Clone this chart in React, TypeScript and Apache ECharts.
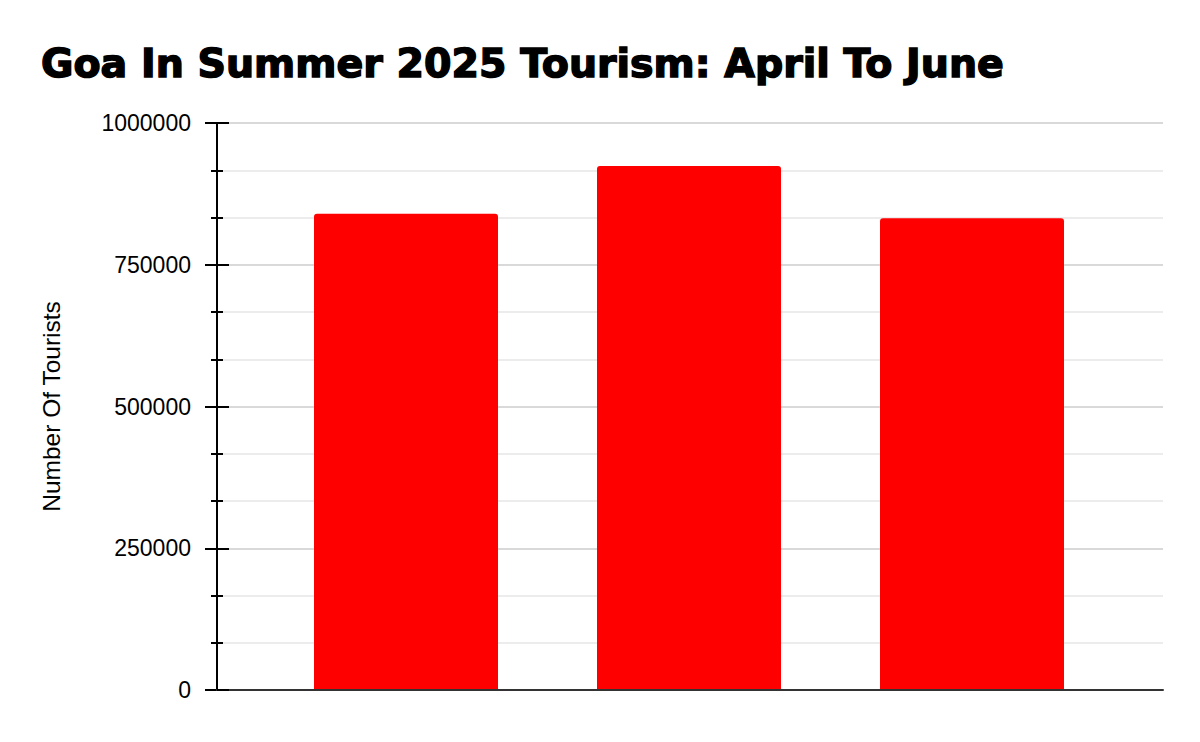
import React, { useEffect, useRef } from 'react';
import * as echarts from 'echarts';

const months = ['April', 'May', 'June'];
const tourists = [840000, 924000, 832000];
const yTicks = [0, 250000, 500000, 750000, 1000000];

const App: React.FC = () => {
  const chartRef = useRef<HTMLDivElement>(null);

  useEffect(() => {
    document.body.style.margin = '0';
    if (!chartRef.current) return;
    const myChart = echarts.init(chartRef.current, undefined, { renderer: 'svg' });

    const font = 'Liberation Sans, Arial, sans-serif';
    const yMin = yTicks[0];
    const yMax = yTicks[yTicks.length - 1];
    const yStep = yTicks[1] - yTicks[0];

    const option = {
      animation: false,
      backgroundColor: '#fff',
      title: {
        text: 'Goa In Summer 2025 Tourism: April To June',
        left: 36,
        top: 38,
        textStyle: {
          fontFamily: 'DejaVu Sans, sans-serif',
          fontWeight: 900,
          fontSize: 39.5,
          color: '#000',
          textBorderColor: '#000',
          textBorderWidth: 1.5
        }
      },
      grid: [
        { left: 217, right: 37, top: 123, bottom: 52 },
        { left: 264.5, right: 86.5, top: 123, bottom: 52 }
      ],
      xAxis: [
        {
          gridIndex: 0,
          type: 'value',
          min: 0,
          max: 1,
          z: 5,
          axisLine: { show: true, lineStyle: { color: '#333', width: 2 } },
          axisTick: { show: false },
          axisLabel: { show: false },
          splitLine: { show: false }
        },
        {
          gridIndex: 1,
          type: 'category',
          data: months,
          show: false
        }
      ],
      yAxis: [
        {
          gridIndex: 0,
          type: 'value',
          min: yMin,
          max: yMax,
          interval: yStep,
          name: 'Number Of Tourists',
          nameLocation: 'middle',
          nameGap: 153,
          nameTextStyle: { fontFamily: font, fontSize: 24.5, color: '#000' },
          axisLine: { show: true, lineStyle: { color: '#000', width: 2 } },
          axisTick: { show: true, length: 12, lineStyle: { color: '#000', width: 2 } },
          minorTick: { show: true, splitNumber: 3, length: 6, lineStyle: { color: '#000', width: 2 } },
          axisLabel: {
            fontFamily: font,
            fontSize: 23,
            color: '#000',
            margin: 26,
            formatter: (v: number) => String(v)
          },
          splitLine: { show: true, lineStyle: { color: '#cccccc', width: 1.5 } },
          minorSplitLine: { show: true, lineStyle: { color: '#e6e6e6', width: 1.5 } }
        },
        {
          gridIndex: 0,
          type: 'value',
          position: 'left',
          min: yMin,
          max: yMax,
          interval: yStep,
          z: 5,
          axisLine: { show: false },
          axisTick: { show: true, inside: true, length: 12, lineStyle: { color: '#000', width: 2 } },
          minorTick: { show: true, splitNumber: 3, length: 6, lineStyle: { color: '#000', width: 2 } },
          axisLabel: { show: false },
          splitLine: { show: false }
        },
        {
          gridIndex: 1,
          type: 'value',
          min: yMin,
          max: yMax,
          show: false
        }
      ],
      series: [
        {
          name: 'Tourists',
          type: 'bar',
          xAxisIndex: 1,
          yAxisIndex: 2,
          barWidth: 184,
          itemStyle: { color: '#ff0000', borderRadius: [3, 3, 0, 0] },
          data: tourists
        }
      ]
    };

    myChart.setOption(option);

    return () => {
      myChart.dispose();
    };
  }, []);

  return <div ref={chartRef} style={{ width: '1200px', height: '742px' }} />;
};

export default App;
